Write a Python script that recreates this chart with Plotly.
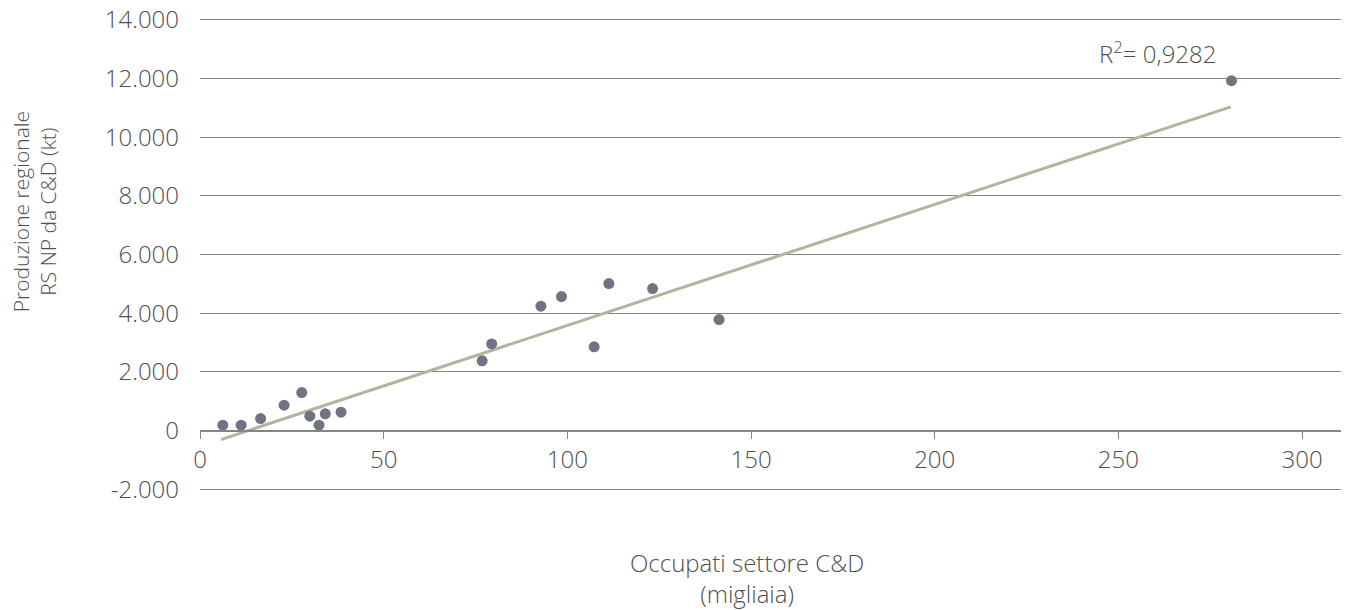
import plotly.graph_objects as go

# Data
occupati = [6.2, 11.2, 16.5, 22.9, 27.7, 29.9, 32.4, 34.1, 38.4,
            76.8, 79.4, 92.8, 98.4, 107.3, 111.3, 123.2, 141.3, 280.8]
produzione = [184, 184, 409, 865, 1295, 491, 184, 569, 627,
              2375, 2954, 4239, 4566, 2852, 5009, 4838, 3782, 11925]

trend_x = [5.7, 280.6]
trend_y = [-307, 11029]

x_ticks = [0, 50, 100, 150, 200, 250, 300]
y_ticks = [-2000, 0, 2000, 4000, 6000, 8000, 10000, 12000, 14000]

r2_label = "R<sup>2</sup>= 0,9282"
x_title = "Occupati settore C&D<br>(migliaia)"
y_title = "Produzione regionale<br>RS NP da C&D (kt)"


def fmt_it(v):
    s = f"{abs(v):,}".replace(",", ".")
    return ("-" if v < 0 else "") + s


FONT = "Open Sans"
TXT = "#4f4f4f"
GRID = "#858585"

y_range = [-2060, 14060]

fig = go.Figure()
fig.add_trace(go.Scatter(
    x=trend_x, y=trend_y, mode="lines",
    line=dict(color="#b3b3a0", width=3),
    hoverinfo="skip", showlegend=False))
fig.add_trace(go.Scatter(
    x=occupati, y=produzione, mode="markers",
    marker=dict(color="#6f7384", size=11),
    showlegend=False))

zero_pos = (0 - y_range[0]) / (y_range[1] - y_range[0])

# plot-area helpers (screen pixels of the reference, plot area 200..1341 x, 14000@19.3 .. -2000@489.3 y)
def px_x(sx):
    return (sx - 200) / 1141


def px_y(sy):
    top = 19.3 - 60 / 34.04
    bottom = 489.3 + 60 / 34.04
    return (bottom - sy) / (bottom - top)


fig.update_layout(
    width=1341, height=602,
    margin=dict(l=192, r=8, t=9.5, b=119, autoexpand=False),
    paper_bgcolor="white", plot_bgcolor="white",
    font=dict(family=FONT, color=TXT, size=24, weight=300),
    xaxis=dict(
        range=[0, 310.6], tickvals=x_ticks, ticktext=[str(v) for v in x_ticks],
        showgrid=False, zeroline=False, automargin=False,
        showline=True, linecolor=GRID, linewidth=1.5,
        ticks="outside", ticklen=8, tickcolor=GRID, tickwidth=1.3,
        anchor="free", position=zero_pos, ticklabeloverflow="allow",
        tickfont=dict(size=24, color=TXT, weight=300),
    ),
    yaxis=dict(
        range=y_range, tickvals=y_ticks, ticktext=[fmt_it(v) for v in y_ticks],
        showgrid=True, gridcolor=GRID, gridwidth=1.3, automargin=False,
        zeroline=False, showline=False, ticks="",
        ticklabelstandoff=20, ticklabeloverflow="allow",
        tickfont=dict(size=24, color=TXT, weight=300),
    ),
    annotations=[
        dict(text=r2_label, xref="paper", yref="paper",
             x=px_x(1097), y=px_y(52),
             xanchor="left", yanchor="middle", showarrow=False,
             font=dict(size=24, color=TXT, weight=300)),
        dict(text=x_title, xref="paper", yref="paper",
             x=px_x(747), y=px_y(578),
             xanchor="center", yanchor="middle", showarrow=False,
             font=dict(size=24, color=TXT, weight=300)),
        dict(text=y_title, xref="paper", yref="paper",
             x=px_x(34), y=px_y(212),
             xanchor="center", yanchor="middle", showarrow=False,
             textangle=-90, font=dict(size=21, color=TXT, weight=300)),
    ],
)

fig.write_html("out.html")
